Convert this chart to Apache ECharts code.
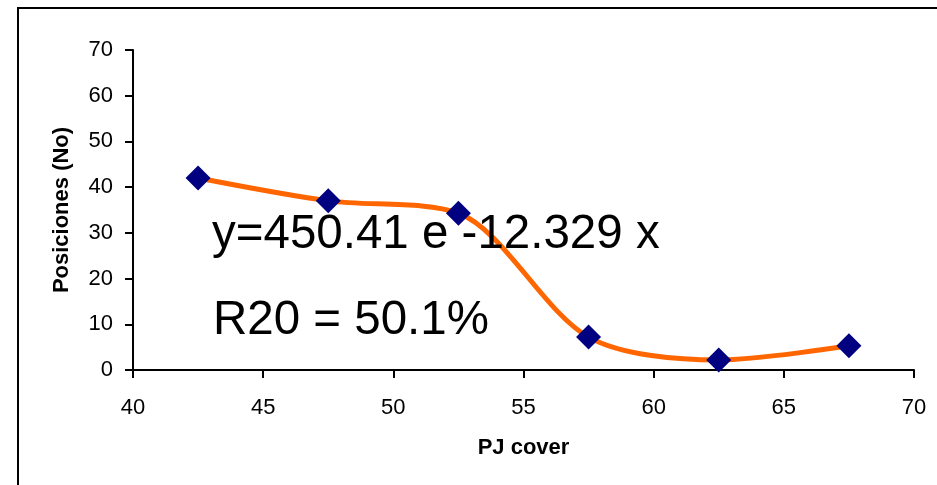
<!DOCTYPE html>
<html>
<head>
<meta charset="utf-8">
<style>
  html, body { margin: 0; padding: 0; background: #fff; }
  #chart { width: 937px; height: 485px; }
</style>
<script src="https://cdn.jsdelivr.net/npm/echarts@6/dist/echarts.min.js"></script>
</head>
<body>
<div id="chart"></div>
<script>
const pjCover = [42.5, 47.5, 52.5, 57.5, 62.5, 67.5];
const posiciones = [42, 37, 34.3, 7.2, 2.2, 5.3];
const xTitle = 'PJ cover';
const yTitle = 'Posiciones (No)';
const equationText = 'y=450.41 e -12.329 x';
const r2Text = 'R20 = 50.1%';

const FONT = '"Liberation Sans", Arial, sans-serif';
const chart = echarts.init(document.getElementById('chart'), null, { renderer: 'canvas' });
chart.setOption({
  animation: false,
  backgroundColor: '#ffffff',
  grid: { left: 133, right: 23, top: 50, bottom: 115, containLabel: false },
  xAxis: {
    type: 'value', min: 40, max: 70, interval: 5,
    name: xTitle, nameLocation: 'middle', nameGap: 67,
    nameTextStyle: { fontFamily: FONT, fontSize: 22, fontWeight: 'bold', color: '#000' },
    axisLine: { onZero: false, lineStyle: { color: '#000', width: 2 } },
    axisTick: { show: true, length: 8, lineStyle: { color: '#000', width: 2 } },
    axisLabel: { fontFamily: FONT, fontSize: 22, color: '#000', margin: 27 },
    splitLine: { show: false }
  },
  yAxis: {
    type: 'value', min: 0, max: 70, interval: 10,
    name: yTitle, nameLocation: 'middle', nameGap: 60, nameRotate: 90,
    nameTextStyle: { fontFamily: FONT, fontSize: 22, fontWeight: 'bold', color: '#000' },
    axisLine: { show: true, lineStyle: { color: '#000', width: 2 } },
    axisTick: { show: true, length: 8, lineStyle: { color: '#000', width: 2 } },
    axisLabel: { fontFamily: FONT, fontSize: 22, color: '#000', margin: 20 },
    splitLine: { show: false }
  },
  series: [{
    type: 'line',
    data: pjCover.map((x, i) => [x, posiciones[i]]),
    smooth: 0.3,
    symbol: 'diamond',
    symbolSize: 25,
    showAllSymbol: true,
    lineStyle: { color: '#FF6600', width: 5 },
    itemStyle: { color: '#000080' },
    z: 3
  }],
  graphic: [
    { type: 'rect', shape: { x: 18, y: 8, width: 1000, height: 1000 },
      style: { fill: 'none', stroke: '#000', lineWidth: 2 }, silent: true },
    { type: 'text', left: 212, top: 211,
      style: { text: equationText, font: '47.5px "Liberation Sans", Arial, sans-serif', fill: '#000' }, z: 10 },
    { type: 'text', left: 213, top: 297,
      style: { text: r2Text, font: '47.5px "Liberation Sans", Arial, sans-serif', fill: '#000' }, z: 10 }
  ]
});
</script>
</body>
</html>
